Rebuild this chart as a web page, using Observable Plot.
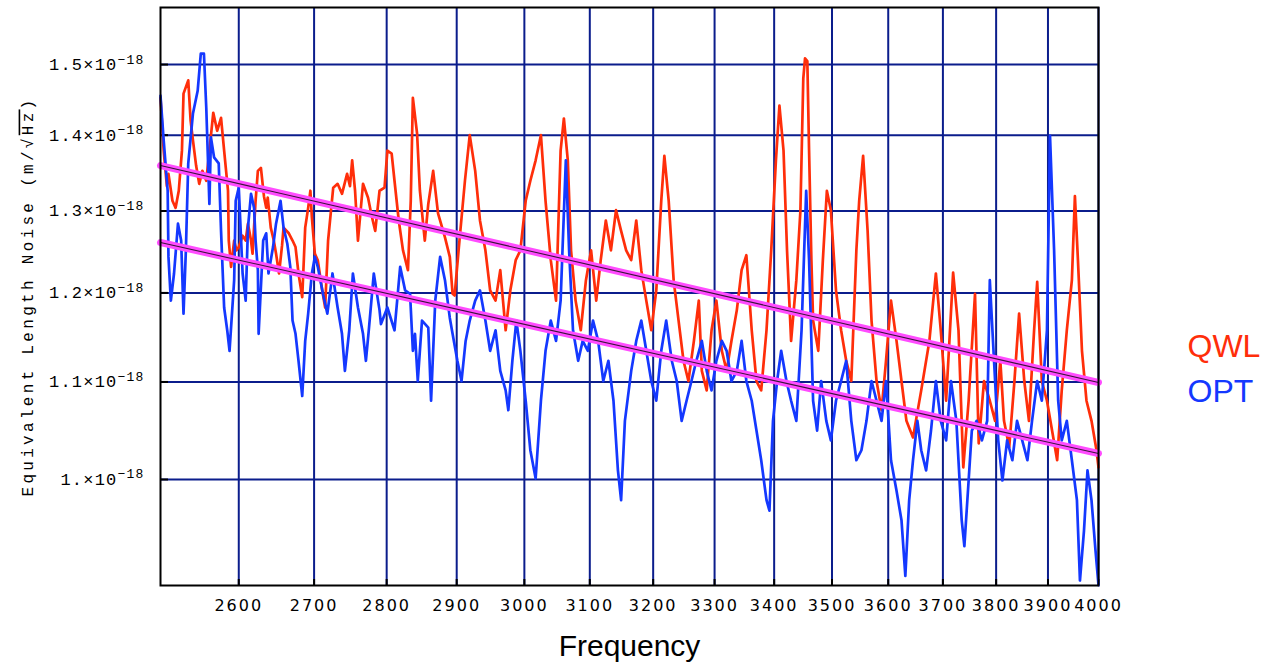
<!DOCTYPE html>
<html><head><meta charset="utf-8">
<script src="https://cdn.jsdelivr.net/npm/d3@7"></script>
<script src="https://cdn.jsdelivr.net/npm/@observablehq/plot@0.6"></script>
<style>body{margin:0;background:#fff}</style>
</head><body><div id="chart"></div>
<script>
// Frequency (Hz) and equivalent length noise (units of 1e-18 m/sqrt(Hz))
const qwlFreq = [2500,2504,2508,2510,2515,2519,2523,2527,2529,2535,2538,2541,2545,2549,2553,2558,2562,2567,2572,2577,2581,2586,2587,2590,2594,2597,2600,2605,2609,2612,2616,2618,2622,2625,2629,2633,2636,2638,2642,2646,2649,2653,2657,2659,2666,2671,2675,2679,2684,2688,2692,2695,2697,2701,2705,2711,2715,2719,2726,2732,2738,2745,2749,2752,2756,2760,2767,2774,2779,2784,2790,2797,2801,2807,2811,2817,2823,2830,2834,2837,2843,2847,2854,2859,2866,2873,2883,2890,2894,2897,2904,2912,2919,2927,2934,2942,2949,2957,2964,2972,2979,2987,2994,3002,3009,3017,3025,3032,3040,3048,3055,3060,3066,3071,3078,3086,3094,3102,3110,3117,3125,3133,3141,3149,3157,3165,3173,3181,3189,3197,3205,3213,3218,3225,3233,3241,3249,3257,3266,3274,3279,3287,3295,3303,3312,3320,3328,3337,3345,3353,3362,3370,3378,3387,3395,3403,3409,3416,3422,3429,3438,3445,3450,3453,3457,3460,3464,3467,3476,3484,3491,3498,3507,3516,3525,3534,3543,3548,3555,3563,3570,3579,3588,3596,3605,3615,3624,3633,3645,3660,3675,3687,3696,3706,3719,3729,3738,3748,3760,3767,3777,3788,3798,3808,3815,3825,3835,3844,3854,3863,3873,3879,3888,3898,3908,3918,3927,3937,3947,3953,3959,3967,3976,3986,3996,4000];
const qwlNoise = [1.452,1.379,1.332,1.348,1.313,1.304,1.326,1.379,1.458,1.477,1.420,1.393,1.359,1.335,1.352,1.339,1.379,1.431,1.406,1.424,1.379,1.326,1.263,1.231,1.263,1.251,1.255,1.269,1.263,1.284,1.263,1.247,1.313,1.352,1.356,1.319,1.304,1.317,1.279,1.263,1.247,1.223,1.257,1.279,1.272,1.263,1.255,1.223,1.195,1.279,1.304,1.326,1.292,1.247,1.239,1.203,1.183,1.263,1.330,1.335,1.322,1.348,1.332,1.366,1.326,1.263,1.335,1.317,1.294,1.275,1.326,1.330,1.379,1.375,1.339,1.288,1.251,1.227,1.313,1.452,1.402,1.326,1.263,1.309,1.352,1.297,1.267,1.243,1.199,1.197,1.263,1.339,1.400,1.352,1.288,1.251,1.203,1.191,1.227,1.157,1.203,1.239,1.251,1.313,1.339,1.366,1.400,1.313,1.239,1.191,1.379,1.423,1.366,1.251,1.191,1.157,1.215,1.251,1.191,1.239,1.288,1.251,1.301,1.275,1.251,1.239,1.288,1.227,1.191,1.157,1.203,1.313,1.372,1.313,1.215,1.168,1.123,1.101,1.145,1.191,1.112,1.091,1.157,1.191,1.134,1.112,1.145,1.180,1.227,1.245,1.157,1.101,1.091,1.157,1.251,1.366,1.441,1.379,1.251,1.145,1.215,1.300,1.480,1.509,1.505,1.380,1.240,1.168,1.134,1.239,1.326,1.301,1.203,1.157,1.123,1.101,1.251,1.313,1.372,1.275,1.168,1.101,1.070,1.123,1.191,1.145,1.101,1.059,1.042,1.091,1.145,1.223,1.157,1.080,1.224,1.157,1.012,1.080,1.199,1.036,1.101,1.080,1.059,1.123,1.059,1.032,1.101,1.176,1.101,1.059,1.157,1.213,1.101,1.080,1.049,1.019,1.091,1.157,1.215,1.319,1.239,1.134,1.080,1.059,1.029,1.012];
const optFreq = [2500,2504,2509,2510,2513,2517,2522,2526,2529,2532,2535,2541,2547,2551,2555,2558,2562,2564,2568,2574,2577,2581,2585,2588,2594,2596,2600,2605,2609,2612,2616,2620,2622,2625,2626,2632,2636,2639,2645,2649,2655,2659,2664,2668,2671,2675,2679,2684,2688,2692,2697,2701,2705,2712,2718,2725,2732,2738,2742,2748,2753,2760,2767,2771,2775,2782,2790,2792,2801,2811,2819,2826,2833,2837,2840,2844,2850,2859,2863,2869,2876,2883,2890,2894,2901,2907,2913,2919,2927,2934,2942,2949,2957,2964,2972,2976,2982,2988,2994,3002,3009,3017,3025,3032,3040,3048,3055,3063,3068,3074,3082,3089,3097,3105,3113,3121,3129,3137,3144,3149,3155,3165,3173,3181,3189,3197,3205,3213,3221,3230,3238,3246,3254,3262,3270,3279,3287,3295,3303,3312,3320,3328,3337,3345,3353,3362,3370,3378,3387,3392,3398,3405,3412,3421,3429,3438,3447,3455,3460,3467,3474,3481,3490,3498,3507,3516,3525,3534,3543,3552,3561,3570,3579,3588,3596,3605,3615,3624,3631,3638,3645,3653,3660,3669,3678,3687,3696,3706,3715,3725,3735,3740,3748,3754,3763,3773,3783,3788,3796,3804,3812,3821,3831,3840,3850,3860,3869,3879,3888,3898,3904,3912,3920,3927,3937,3947,3957,3963,3971,3978,3986,3994,4000];
const optNoise = [1.455,1.393,1.326,1.243,1.191,1.223,1.284,1.263,1.176,1.251,1.362,1.430,1.462,1.516,1.516,1.438,1.309,1.397,1.370,1.362,1.275,1.183,1.157,1.134,1.215,1.313,1.330,1.223,1.191,1.279,1.322,1.304,1.263,1.227,1.153,1.263,1.272,1.223,1.255,1.284,1.313,1.279,1.259,1.231,1.168,1.153,1.123,1.085,1.145,1.176,1.223,1.243,1.231,1.199,1.176,1.223,1.183,1.153,1.112,1.157,1.223,1.183,1.153,1.123,1.157,1.223,1.180,1.164,1.183,1.157,1.231,1.203,1.199,1.134,1.153,1.101,1.168,1.160,1.080,1.191,1.243,1.215,1.171,1.153,1.123,1.101,1.145,1.168,1.191,1.203,1.168,1.134,1.157,1.112,1.091,1.070,1.123,1.168,1.134,1.080,1.029,1.001,1.080,1.134,1.168,1.145,1.191,1.366,1.251,1.157,1.123,1.145,1.134,1.168,1.145,1.101,1.123,1.080,1.009,0.980,1.059,1.112,1.145,1.168,1.134,1.101,1.080,1.134,1.168,1.123,1.101,1.059,1.080,1.101,1.123,1.145,1.112,1.091,1.123,1.145,1.134,1.101,1.112,1.145,1.101,1.080,1.049,1.019,0.980,0.970,1.059,1.101,1.134,1.101,1.080,1.059,1.157,1.326,1.239,1.080,1.049,1.101,1.059,1.039,1.080,1.101,1.123,1.059,1.019,1.029,1.059,1.101,1.080,1.059,1.101,1.019,0.989,0.961,0.910,0.980,1.019,1.059,1.029,1.009,1.049,1.101,1.059,1.039,1.101,1.059,0.961,0.937,0.999,1.049,1.059,1.039,1.059,1.215,1.123,1.039,0.999,1.039,1.019,1.059,1.039,1.019,1.059,1.101,1.080,1.157,1.399,1.251,1.080,1.039,1.059,1.019,0.980,0.906,0.951,1.009,0.980,0.933,0.902];
// Power-law fits (straight lines on the log-log axes)
const fitFreq = [2500, 4000];
const qwlFit = [1.359, 1.0994];
const optFit = [1.2606, 1.0257];
const xTicks = [2600,2700,2800,2900,3000,3100,3200,3300,3400,3500,3600,3700,3800,3900,4000];
const yTicks = [1.0,1.1,1.2,1.3,1.4,1.5];
const yTickLabels = ["1.","1.1","1.2","1.3","1.4","1.5"];
const yExponent = "\u221218";
const seriesNames = ["QWL","OPT"];
const xLabel = "Frequency";
const yLabel = "Equivalent Length Noise (m/\u221AHz)";

const red = "#ff2e0a", blue = "#1438ff", navy = "#0b1d8c", pink = "#ff4cff";
const qwl = qwlFreq.map((f,i)=>({f, v: qwlNoise[i]}));
const opt = optFreq.map((f,i)=>({f, v: optNoise[i]}));
const fitQ = fitFreq.map((f,i)=>({f, v: qwlFit[i]}));
const fitO = fitFreq.map((f,i)=>({f, v: optFit[i]}));

const chart = Plot.plot({
  width: 1270, height: 668,
  marginLeft: 160, marginRight: 172, marginTop: 7, marginBottom: 83,
  style: {background: "white", color: "black"},
  x: {type: "log", domain: [2500, 4000]},
  y: {type: "log", domain: [0.9016, 1.586]},
  marks: [
    Plot.gridX(xTicks, {stroke: navy, strokeOpacity: 1, strokeWidth: 2}),
    Plot.gridY(yTicks, {stroke: navy, strokeOpacity: 1, strokeWidth: 2}),
    Plot.tickX(xTicks, {x: d=>d, stroke: "black", strokeWidth: 2, insetTop: 572}),
    Plot.tickY(yTicks, {y: d=>d, stroke: "black", strokeWidth: 2, insetRight: 930}),
    Plot.line(qwl, {x: "f", y: "v", stroke: red, strokeWidth: 2.7}),
    Plot.line(opt, {x: "f", y: "v", stroke: blue, strokeWidth: 2.7}),
    Plot.line(fitQ, {x: "f", y: "v", stroke: pink, strokeWidth: 7}),
    Plot.line(fitQ, {x: "f", y: "v", stroke: "#3a1538", strokeWidth: 1.1}),
    Plot.line(fitO, {x: "f", y: "v", stroke: pink, strokeWidth: 7}),
    Plot.line(fitO, {x: "f", y: "v", stroke: "#3a1538", strokeWidth: 1.1}),
    Plot.frame({stroke: "black", strokeWidth: 2}),
    Plot.axisX(xTicks, {tickSize: 0, tickPadding: 14, label: null, tickFormat: d=>String(d),
      fontSize: 16, fontFamily: "DejaVu Sans", fill: "black"}),
    Plot.axisY(yTicks, {tickSize: 0, tickPadding: 16, label: null,
      tickFormat: d=>yTickLabels[yTicks.indexOf(d)] + "\u00D710",
      fontSize: 17, fontFamily: "Liberation Mono", fill: "black"}),
    Plot.text([xLabel], {text: d=>d, frameAnchor: "bottom", dy: 70, fontSize: 30,
      fontFamily: "Liberation Sans", fill: "black"}),
    Plot.text([yLabel], {text: d=>d, frameAnchor: "left", textAnchor: "middle", dx: -133, rotate: -90,
      fontSize: 16, fontFamily: "Liberation Mono", fill: "black"}),
    Plot.text([seriesNames[0]], {text: d=>d, frameAnchor: "right", dx: 89, dy: 50, textAnchor: "start",
      fontSize: 32, fontFamily: "Liberation Sans", fill: red}),
    Plot.text([seriesNames[1]], {text: d=>d, frameAnchor: "right", dx: 89, dy: 95, textAnchor: "start",
      fontSize: 32, fontFamily: "Liberation Sans", fill: blue})
  ]
});
document.getElementById("chart").appendChild(chart);

const svg = d3.select(chart);
svg.selectAll('g[aria-label="x-axis tick label"] text').style("letter-spacing", "2px");
svg.selectAll('g[aria-label="y-axis tick label"] text').style("letter-spacing", "1.2px").each(function(){
  d3.select(this).append("tspan").attr("dy", "-0.5em").attr("font-size", "13px").text(yExponent);
});
svg.selectAll("text").filter(function(){ return this.textContent === yLabel; }).each(function(){
  const t = d3.select(this);
  t.text(null).attr("text-anchor", "middle").style("letter-spacing", "3.3px");
  t.append("tspan").text("Equivalent Length Noise (m/\u221A");
  t.append("tspan").style("text-decoration", "overline").text("Hz");
  t.append("tspan").text(")");
});
</script>
</body></html>
